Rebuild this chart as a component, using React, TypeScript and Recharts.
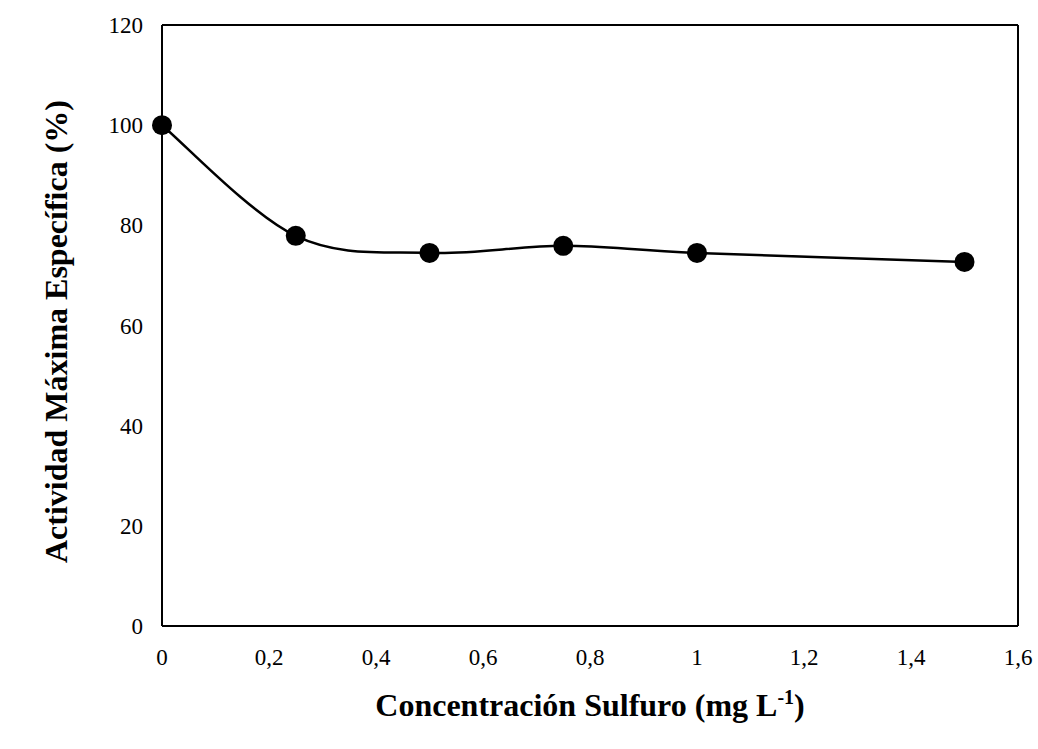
import React from "react";
import {
  LineChart,
  Line,
  XAxis,
  YAxis,
  ReferenceLine,
  Label,
} from "recharts";

const concentrations = [0, 0.25, 0.5, 0.75, 1, 1.5];
const activity = [100, 77.9, 74.5, 75.9, 74.5, 72.7];
const xTicks = [0, 0.2, 0.4, 0.6, 0.8, 1, 1.2, 1.4, 1.6];
const yTicks = [0, 20, 40, 60, 80, 100, 120];

const data = concentrations.map((c, i) => ({ x: c, y: activity[i] }));

// Excel-style smoothed line (Catmull-Rom through points, tension 1/6)
const excelCurve = (context: any) => {
  let pts: [number, number][] = [];
  return {
    areaStart() {},
    areaEnd() {},
    lineStart() {
      pts = [];
    },
    lineEnd() {
      const n = pts.length;
      if (n === 0) return;
      context.moveTo(pts[0][0], pts[0][1]);
      for (let i = 0; i < n - 1; i++) {
        const p0 = pts[i === 0 ? 0 : i - 1];
        const p1 = pts[i];
        const p2 = pts[i + 1];
        const p3 = pts[i + 2 < n ? i + 2 : n - 1];
        context.bezierCurveTo(
          p1[0] + (p2[0] - p0[0]) / 6,
          p1[1] + (p2[1] - p0[1]) / 6,
          p2[0] - (p3[0] - p1[0]) / 6,
          p2[1] - (p3[1] - p1[1]) / 6,
          p2[0],
          p2[1]
        );
      }
    },
    point(x: number, y: number) {
      pts.push([+x, +y]);
    },
  };
};

const fmt = (v: number) => String(v).replace(".", ",");
const FONT = "'Liberation Serif', 'Times New Roman', serif";

const XTitle = (props: any) => {
  const vb = props.viewBox || {};
  const cx = vb.x + vb.width / 2;
  return (
    <text
      x={cx}
      y={vb.y + 90}
      textAnchor="middle"
      fontFamily={FONT}
      fontWeight="bold"
      fontSize={32}
      fill="#000"
    >
      <tspan>Concentración Sulfuro (mg L</tspan>
      <tspan dy={-12} fontSize={20}>-1</tspan>
      <tspan dy={12}>)</tspan>
    </text>
  );
};

const YTitle = (props: any) => {
  const vb = props.viewBox || {};
  const x = 56;
  const y = vb.y + vb.height / 2 + 6;
  return (
    <text
      x={x}
      y={y}
      transform={`rotate(-90, ${x}, ${y})`}
      textAnchor="middle"
      dominantBaseline="central"
      fontFamily={FONT}
      fontWeight="bold"
      fontSize={32}
      fill="#000"
    >
      Actividad Máxima Específica (%)
    </text>
  );
};

export default function App() {
  return (
    <div style={{ width: 1038, height: 746, background: "#fff" }}>
      <style>{`body{margin:0;overflow:hidden}`}</style>
      <LineChart
        width={1038}
        height={746}
        data={data}
        margin={{ top: 25, right: 20, bottom: 0, left: 62 }}
      >
        <XAxis
          dataKey="x"
          type="number"
          domain={[0, 1.6]}
          ticks={xTicks}
          tickFormatter={fmt}
          interval={0}
          axisLine={{ stroke: "#000", strokeWidth: 2 }}
          tickLine={false}
          tickSize={0}
          tickMargin={23}
          height={120}
          tick={{ fill: "#000", fontSize: 23, fontFamily: FONT }}
        >
          <Label content={<XTitle />} />
        </XAxis>
        <YAxis
          type="number"
          domain={[0, 120]}
          ticks={yTicks}
          interval={0}
          axisLine={{ stroke: "#000", strokeWidth: 2 }}
          tickLine={false}
          tickSize={0}
          tickMargin={19}
          width={100}
          tick={{ fill: "#000", fontSize: 23, fontFamily: FONT }}
        >
          <Label content={<YTitle />} />
        </YAxis>
        <ReferenceLine y={120} stroke="#000" strokeWidth={2} />
        <ReferenceLine x={1.6} stroke="#000" strokeWidth={2} />
        <Line
          dataKey="y"
          type={excelCurve as any}
          stroke="#000"
          strokeWidth={2.5}
          dot={{ r: 10, fill: "#000", stroke: "#000", strokeWidth: 0 }}
          activeDot={false}
          isAnimationActive={false}
        />
      </LineChart>
    </div>
  );
}
